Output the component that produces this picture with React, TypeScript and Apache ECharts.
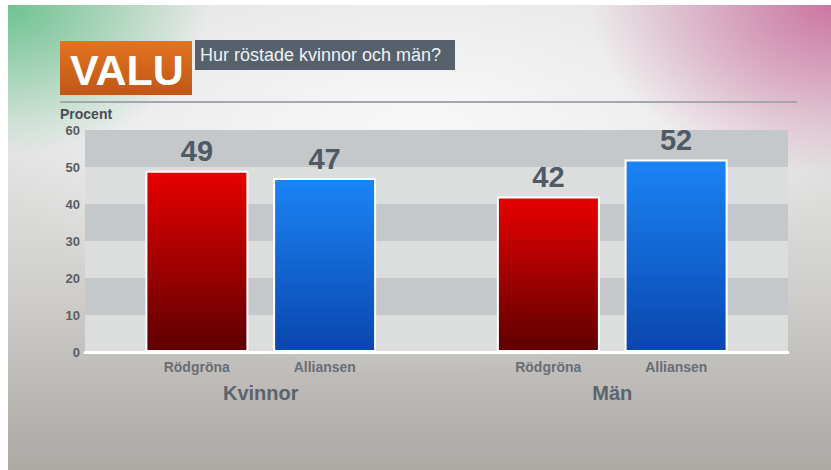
import React, { useEffect, useRef } from "react";
import * as echarts from "echarts";

const groups = ["Kvinnor", "Män"];
const seriesNames = ["Rödgröna", "Alliansen"];
const rodgrona = [49, 42];
const alliansen = [47, 52];
const yTicks = [0, 10, 20, 30, 40, 50, 60];

export default function App() {
  const ref = useRef<HTMLDivElement>(null);
  useEffect(() => {
    document.body.style.margin = "0";
    if (!ref.current) return;
    const chart = echarts.init(ref.current, null, { renderer: "svg" });
    const font = "'Liberation Sans', Arial, sans-serif";
    chart.setOption({
      animation: false,
      textStyle: { fontFamily: font },
      grid: { left: 85, right: 43, top: 130, bottom: 118, containLabel: false },
      xAxis: {
        type: "category",
        data: groups,
        axisLine: { show: true, lineStyle: { color: "#ffffff", width: 3 } },
        axisTick: { show: false },
        splitLine: { show: false },
        axisLabel: {
          margin: 6,
          interval: 0,
          formatter: (v: string) => `{r|${seriesNames[0]}}{a|${seriesNames[1]}}\n{b|${v}}`,
          rich: {
            r: { width: 128, align: "center", fontSize: 14, fontWeight: "bold", color: "#6a6e72", lineHeight: 17, fontFamily: font },
            a: { width: 128, align: "center", fontSize: 14, fontWeight: "bold", color: "#6a6e72", lineHeight: 17, fontFamily: font },
            b: { fontSize: 20, fontWeight: "bold", color: "#5c646c", lineHeight: 36, fontFamily: font },
          },
        },
      },
      yAxis: {
        type: "value",
        min: yTicks[0],
        max: yTicks[yTicks.length - 1],
        interval: 10,
        axisLine: { show: false },
        axisTick: { show: false },
        splitLine: { show: false },
        splitArea: { show: true, areaStyle: { color: ["#dcdddd", "#c5c8cb"] } },
        axisLabel: { margin: 5, fontSize: 13, fontWeight: "bold", color: "#5a5e62", fontFamily: font },
      },
      series: [
        {
          name: seriesNames[0],
          type: "bar",
          data: rodgrona,
          barWidth: 103,
          barGap: "24%",
          itemStyle: {
            borderColor: "#ffffff",
            borderWidth: 2,
            color: new echarts.graphic.LinearGradient(0, 0, 0, 1, [
              { offset: 0, color: "#e80000" },
              { offset: 1, color: "#5e0000" },
            ]),
          },
          label: { show: true, position: "top", distance: 5, fontSize: 29, fontWeight: "bold", color: "#4f5a64", fontFamily: font },
        },
        {
          name: seriesNames[1],
          type: "bar",
          data: alliansen,
          barWidth: 103,
          barGap: "24%",
          itemStyle: {
            borderColor: "#ffffff",
            borderWidth: 2,
            color: new echarts.graphic.LinearGradient(0, 0, 0, 1, [
              { offset: 0, color: "#1a84f6" },
              { offset: 1, color: "#0a46ae" },
            ]),
          },
          label: { show: true, position: "top", distance: 5, fontSize: 29, fontWeight: "bold", color: "#4f5a64", fontFamily: font },
        },
      ],
      graphic: [
        {
          type: "rect",
          shape: { x: 60, y: 41, width: 132, height: 54 },
          style: {
            fill: new echarts.graphic.LinearGradient(0, 0, 0, 1, [
              { offset: 0, color: "#e2741f" },
              { offset: 1, color: "#bf5716" },
            ]),
          },
        },
        {
          type: "text",
          x: 127,
          y: 70,
          style: { text: "VALU", fill: "#ffffff", fontSize: 43, fontFamily: font, align: "center", verticalAlign: "middle", fontWeight: "bold" },
        },
        {
          type: "rect",
          shape: { x: 195, y: 40, width: 260, height: 30 },
          style: { fill: "#56616b" },
        },
        {
          type: "text",
          x: 200,
          y: 55,
          style: { text: "Hur röstade kvinnor och män?", fill: "#eef2f5", fontSize: 18, fontFamily: font, verticalAlign: "middle" },
        },
        {
          type: "rect",
          shape: { x: 60, y: 101, width: 737, height: 2 },
          style: { fill: "#a2a8ad" },
        },
        {
          type: "text",
          x: 60,
          y: 114,
          style: { text: "Procent", fill: "#4a4e52", fontSize: 14, fontWeight: "bold", fontFamily: font, verticalAlign: "middle" },
        },
      ],
    });
    return () => chart.dispose();
  }, []);

  return (
    <div style={{ position: "relative", width: 831, height: 470, background: "#ffffff", overflow: "hidden" }}>
      <div
        style={{
          position: "absolute",
          left: 8,
          top: 5,
          width: 823,
          height: 465,
          background:
            "radial-gradient(ellipse 200px 150px at 0% 0%, rgba(90,190,130,0.85), rgba(90,190,130,0) 100%)," +
            "radial-gradient(ellipse 240px 170px at 100% 0%, rgba(200,100,150,0.85), rgba(200,100,150,0) 100%)," +
            "radial-gradient(ellipse 420px 240px at 50% 28%, rgba(250,250,250,0.9), rgba(250,250,250,0) 100%)," +
            "linear-gradient(to bottom, #e2e2e2 0%, #e8e8e8 25%, #cfcecc 62%, #aca8a4 100%)",
        }}
      />
      <div ref={ref} style={{ position: "absolute", left: 0, top: 0, width: 831, height: 470 }} />
    </div>
  );
}
